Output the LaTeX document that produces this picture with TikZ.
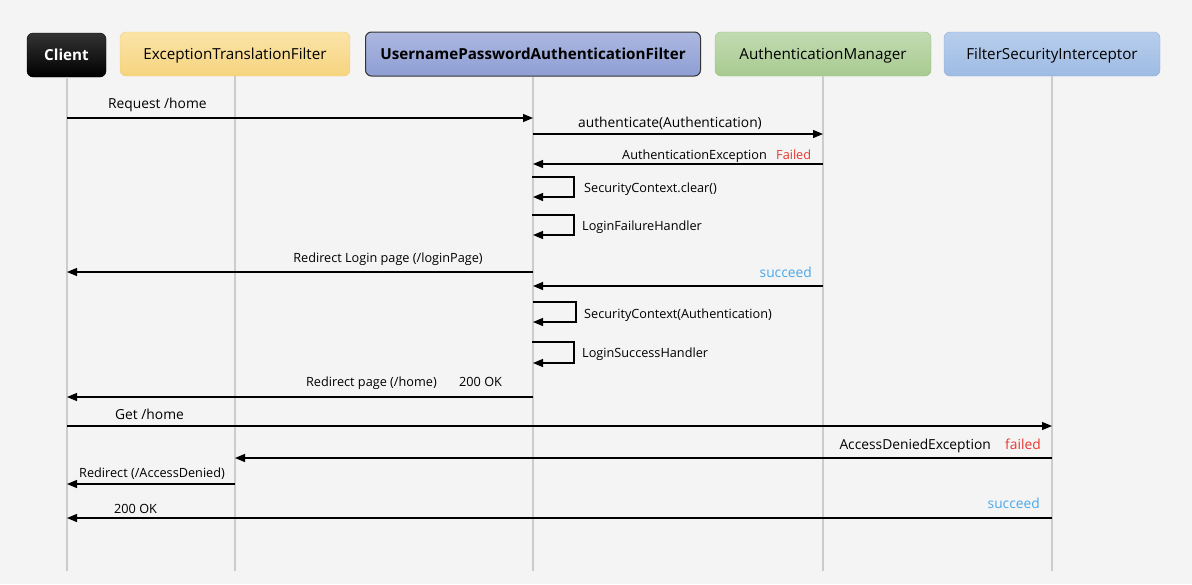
\documentclass[tikz,border=0pt]{standalone}
\usepackage{fontspec}
\setmainfont{Open Sans}
\usetikzlibrary{arrows.meta}
\definecolor{bg}{HTML}{F4F4F4}
\definecolor{life}{HTML}{CCCCCC}
\definecolor{failred}{HTML}{E8382F}
\definecolor{succblue}{HTML}{4AA8EA}
\definecolor{etfT}{HTML}{FBE4A8}\definecolor{etfB}{HTML}{F6D47F}\definecolor{etfD}{HTML}{EFCF7A}
\definecolor{upT}{HTML}{ADB8E0}\definecolor{upB}{HTML}{8E9ED4}
\definecolor{amT}{HTML}{C2DBB2}\definecolor{amB}{HTML}{A8CB90}\definecolor{amD}{HTML}{98C07E}
\definecolor{fsT}{HTML}{B8CEEC}\definecolor{fsB}{HTML}{9EBBE3}\definecolor{fsD}{HTML}{8DAFDC}
\tikzset{
  actor/.style={rounded corners=6pt, minimum height=44pt, inner sep=0pt, text height=11pt, text depth=0pt, font=\fontsize{15.2}{17}\selectfont},
  lifeline/.style={draw=life, line width=1.4pt},
  msg/.style={line width=1.2pt, -{Triangle[length=10pt,width=8pt]}},
  lbl/.style={font=\fontsize{13.8}{16}\selectfont, inner sep=0pt},
  slbl/.style={font=\fontsize{12.7}{15}\selectfont, inner sep=0pt},
}
\begin{document}
\begin{tikzpicture}[x=1pt,y=-1pt]
\fill[bg] (0,0) rectangle (1192,584);
\useasboundingbox (0,0) rectangle (1192,584);
% actors
\node[actor, minimum width=79pt, top color=black!80, bottom color=black, draw=black, text=white, font=\fontsize{15.2}{17}\selectfont\bfseries] (client) at (66.5,55) {Client};
\node[actor, minimum width=230pt, top color=etfT, bottom color=etfB, draw=etfD] (etf) at (235,54) {ExceptionTranslationFilter};
\node[actor, minimum width=335pt, top color=upT, bottom color=upB, draw=black!80, line width=1pt, font=\fontsize{15.2}{17}\selectfont\bfseries] (upaf) at (533,54) {UsernamePasswordAuthenticationFilter};
\node[actor, minimum width=216pt, top color=amT, bottom color=amB, draw=amD] (am) at (823,54) {AuthenticationManager};
\node[actor, minimum width=216pt, top color=fsT, bottom color=fsB, draw=fsD] (fsi) at (1052,54) {FilterSecurityInterceptor};
% lifeline ends
\coordinate (clientE) at (67,571);
\coordinate (etfE) at (235,571);
\coordinate (upafE) at (533,571);
\coordinate (amE) at (823,571);
\coordinate (fsiE) at (1052,571);
\draw[lifeline] (client.south -| clientE) -- (clientE);
\draw[lifeline] (etf.south -| etfE) -- (etfE);
\draw[lifeline] (upaf.south -| upafE) -- (upafE);
\draw[lifeline] (am.south -| amE) -- (amE);
\draw[lifeline] (fsi.south -| fsiE) -- (fsiE);
% message endpoints
\foreach \n/\x/\y in {m1a/67/118, m1b/533/118, m2a/533/134, m2b/823/134, m3a/823/164, m3b/533/164,
  m6a/533/272, m6b/67/272, m7a/823/286, m7b/533/286, m10a/533/397, m10b/67/397,
  m11a/67/426, m11b/1052/426, m12a/1052/458, m12b/235/458, m13a/235/484, m13b/67/484,
  m14a/1052/518, m14b/67/518,
  s1a/532/177, s1b/533/197, s2a/532/215, s2b/533/235, s3a/533/302, s3b/533/322, s4a/532/342, s4b/533/363}
  {\coordinate (\n) at (\x,\y);}
% messages
\draw[msg] (m1a) -- (m1b);
\node[lbl, anchor=base west] (t1) at (108,108) {Request /home};
\draw[msg] (m2a) -- (m2b);
\node[lbl, anchor=base] (t2) at (670,127) {authenticate(Authentication)};
\draw[msg] (m3a) -- (m3b);
\node[slbl, anchor=base east] (t3) at (767,159) {AuthenticationException};
\node[slbl, anchor=base west, text=failred] (t3b) at (776,159) {Failed};
\draw[msg] (s1a) -- ++(42,0) |- (s1b);
\node[slbl, anchor=base west] (t4) at (584,192) {SecurityContext.clear()};
\draw[msg] (s2a) -- ++(42,0) |- (s2b);
\node[slbl, anchor=base west] (t5) at (582,230) {LoginFailureHandler};
\draw[msg] (m6a) -- (m6b);
\node[slbl, anchor=base] (t6) at (388,262) {Redirect Login page (/loginPage)};
\draw[msg] (m7a) -- (m7b);
\node[lbl, anchor=base east, text=succblue] (t7) at (812,277) {succeed};
\draw[msg] (s3a) -- ++(43,0) |- (s3b);
\node[slbl, anchor=base west] (t8) at (584,318) {SecurityContext(Authentication)};
\draw[msg] (s4a) -- ++(42,0) |- (s4b);
\node[slbl, anchor=base west] (t9) at (582,357) {LoginSuccessHandler};
\draw[msg] (m10a) -- (m10b);
\node[slbl, anchor=base east] (t10) at (437,386) {Redirect page (/home)};
\node[slbl, anchor=base west] (t10b) at (459,386) {200 OK};
\draw[msg] (m11a) -- (m11b);
\node[lbl, anchor=base west] (t11) at (115,419) {Get /home};
\draw[msg] (m12a) -- (m12b);
\node[lbl, anchor=base east] (t12) at (991,449) {AccessDeniedException};
\node[lbl, anchor=base west, text=failred] (t12b) at (1005,449) {failed};
\draw[msg] (m13a) -- (m13b);
\node[slbl, anchor=base west] (t13) at (79,477) {Redirect (/AccessDenied)};
\draw[msg] (m14a) -- (m14b);
\node[slbl, anchor=base west] (t14) at (114,513) {200 OK};
\node[lbl, anchor=base east, text=succblue] (t14b) at (1040,508) {succeed};
\end{tikzpicture}
\end{document}
